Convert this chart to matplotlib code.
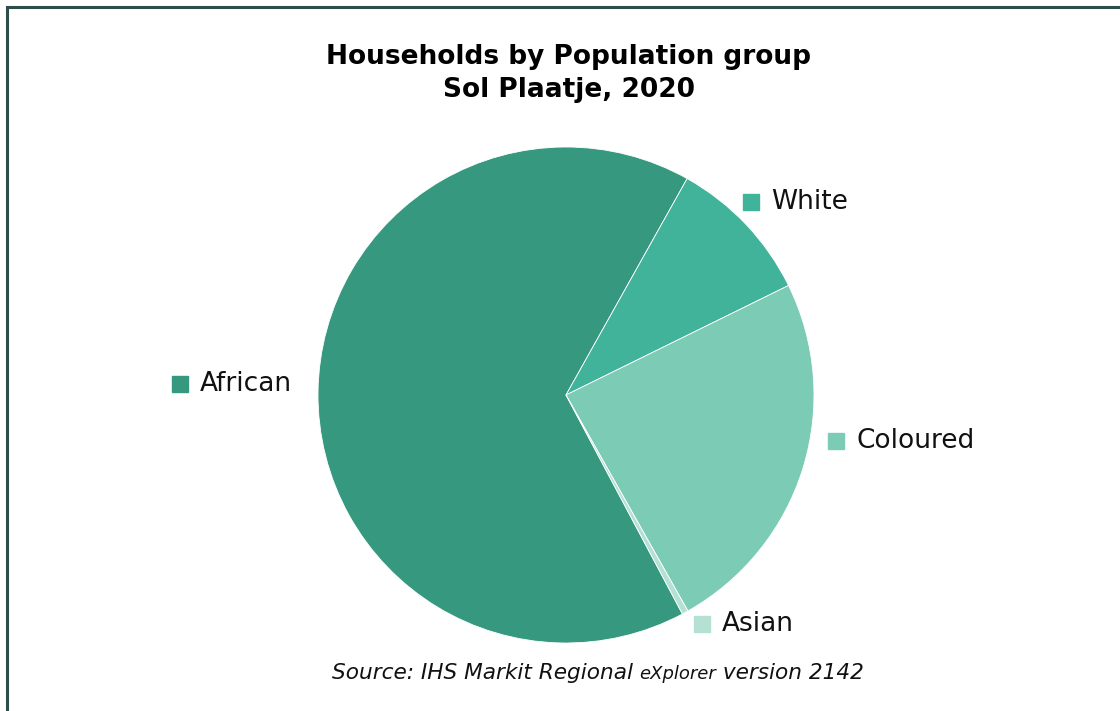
import matplotlib.pyplot as plt
from matplotlib.patches import Rectangle

# Share of households by population group (%)
groups = ["African", "White", "Coloured", "Asian"]
shares = [65.9, 9.6, 24.1, 0.4]
colors = ["#35987f", "#41b39a", "#7bcbb5", "#b4e1d4"]

W, H = 1120, 711
cx, cy, R = 566, 395, 248  # pie centre and radius in pixels

fig = plt.figure(figsize=(W / 100, H / 100), dpi=100)
ax = fig.add_axes([0, 0, 1, 1])

ax.pie(shares, colors=colors, startangle=-62, counterclock=False, radius=1,
       wedgeprops=dict(edgecolor="white", linewidth=0.6))

# pie() resets the limits, so fix them afterwards
ax.set_aspect("auto")
ax.set_xlim(-cx / R, (W - cx) / R)
ax.set_ylim(-(H - cy) / R, cy / R)
ax.axis("off")


def px(x, y):
    # pixel position (from top-left) -> data units
    return (x - cx) / R, (cy - y) / R


# category labels with coloured keys
label_pos = {"African": (180, 384), "White": (751, 202),
             "Coloured": (836, 441), "Asian": (702, 624)}
for g, c in zip(groups, colors):
    kx, ky = px(*label_pos[g])
    ax.plot(kx, ky, marker="s", ms=11, color=c, mec=c, clip_on=False)
    tx, ty = px(label_pos[g][0] + 20, label_pos[g][1])
    ax.text(tx, ty, g, fontsize=19, va="center", ha="left", color="#111111")

fig.text(569 / W, 1 - 57 / H, "Households by Population group",
         fontsize=19, fontweight="bold", ha="center", va="center")
fig.text(569 / W, 1 - 90 / H, "Sol Plaatje, 2020",
         fontsize=19, fontweight="bold", ha="center", va="center")

# source line, with a smaller "eXplorer"
renderer = fig.canvas.get_renderer()
parts = [("Source: IHS Markit Regional ", 15.6), ("eXplorer", 13), (" version 2142", 15.6)]
widths = []
for s, fs in parts:
    t = fig.text(0, 0, s, fontsize=fs, style="italic")
    widths.append(t.get_window_extent(renderer).width)
    t.remove()
x0 = 598 - sum(widths) / 2
for (s, fs), w in zip(parts, widths):
    fig.text(x0 / W, 1 - 679 / H, s, fontsize=fs, style="italic", ha="left",
             va="baseline", color="#111111")
    x0 += w

# outer frame (only left and top edges fall inside the image)
fig.patches.append(Rectangle((7 / W, -0.1), 1.2, 1 - 7 / H + 0.1, transform=fig.transFigure,
                             fill=False, edgecolor="#2d4d4a", linewidth=2.2))

fig.savefig("out.png", dpi=100)
